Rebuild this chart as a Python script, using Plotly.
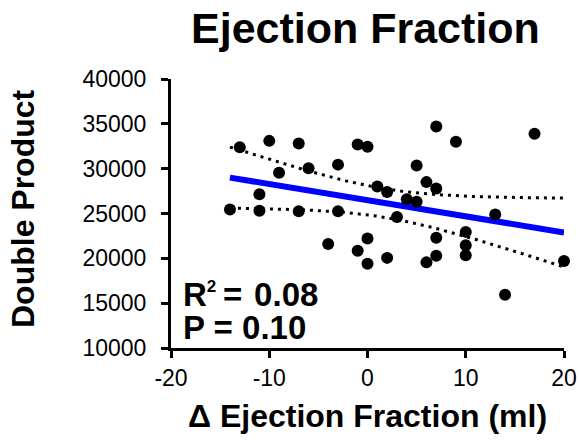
import numpy as np
import plotly.graph_objects as go

# Change in ejection fraction (ml) and double product for each subject
delta_ef = [-13, -10, -7, -1, 0, 7, 9, 17,
            -9, -6, -3, 5,
            1, 2, 6, 7,
            -11, 4, 5,
            -14, -11, -7, -3, 3, 13,
            -4, -1, 0, 0, 2, 7, 6, 7,
            10, 10, 10, 20, 14]
double_product = [32400, 33100, 32800, 32700, 32450, 34700, 33000, 33900,
                  29550, 30050, 30450, 30350,
                  28000, 27400, 28500, 27800,
                  27150, 26600, 26300,
                  25450, 25300, 25250, 25250, 24600, 24900,
                  21600, 20850, 22200, 19400, 20050, 22300, 19550, 20300,
                  22950, 21450, 20350, 19700, 15950]

x_ticks = [-20, -10, 0, 10, 20]
x_tick_text = ["-20", "-10", "0", "10", "20"]
y_ticks = [10000, 15000, 20000, 25000, 30000, 35000, 40000]
y_tick_text = ["10000", "15000", "20000", "25000", "30000", "35000", "40000"]
r2_label = ("R<sup><span style='font-size:17px'>2</span></sup>"
            "\u2009=\u00a0\u200a0.08")
p_label = "P = 0.10"

# Linear fit with 95% confidence band of the regression line
x = np.array(delta_ef, dtype=float)
y = np.array(double_product, dtype=float)
n = len(x)
slope, intercept = np.polyfit(x, y, 1)
resid = y - (slope * x + intercept)
s = np.sqrt(np.sum(resid ** 2) / (n - 2))
sxx = np.sum((x - x.mean()) ** 2)
t_crit = 2.028  # two-sided 95%, df = 36
xf = np.linspace(x.min(), x.max(), 200)
yf = slope * xf + intercept
half = t_crit * s * np.sqrt(1.0 / n + (xf - x.mean()) ** 2 / sxx)

FONT = "Liberation Sans, Arial, sans-serif"

fig = go.Figure()
fig.add_trace(go.Scatter(x=xf, y=yf + half, mode="lines",
                         line=dict(color="black", width=3, dash="3px,5px"),
                         hoverinfo="skip"))
fig.add_trace(go.Scatter(x=xf, y=yf - half, mode="lines",
                         line=dict(color="black", width=3, dash="3px,5px"),
                         hoverinfo="skip"))
fig.add_trace(go.Scatter(x=xf, y=yf, mode="lines",
                         line=dict(color="#0000FF", width=6)))
fig.add_trace(go.Scatter(x=delta_ef, y=double_product, mode="markers",
                         marker=dict(color="black", size=12),
                         cliponaxis=False))

W, H = 579, 441
ml, mr, mt, mb = 171, 15, 79, 93
pw, ph = W - ml - mr, H - mt - mb


def px(xp):
    return (xp - ml) / pw


def py(yp):
    return (H - mb - yp) / ph


annos = [
    dict(text="Ejection Fraction", x=px(365), y=py(27.5), xanchor="center",
         yanchor="middle", font=dict(size=43, weight="bold")),
    dict(text="\u0394 Ejection Fraction (ml)", x=px(367.5), y=py(416.4),
         xanchor="center", yanchor="middle", font=dict(size=32, weight="bold")),
    dict(text="Double Product", x=px(23), y=py(209), textangle=-90,
         xanchor="center", yanchor="middle", font=dict(size=32, weight="bold")),
    dict(text=r2_label, x=px(181), y=py(294), xanchor="left",
         yanchor="middle", font=dict(size=33, weight="bold")),
    dict(text=p_label, x=px(181), y=py(327.5), xanchor="left",
         yanchor="middle", font=dict(size=33, weight="bold")),
]
for a in annos:
    a.update(xref="paper", yref="paper", showarrow=False)
    a["font"].update(family=FONT, color="black")

axis_common = dict(showgrid=False, zeroline=False, showline=True,
                   linecolor="black", linewidth=3, ticks="outside",
                   ticklen=7, tickwidth=3, tickcolor="black", automargin=False,
                   tickfont=dict(family=FONT, size=23, color="black"))

fig.update_layout(
    width=W, height=H, autosize=False,
    margin=dict(l=ml, r=mr, t=mt, b=mb, autoexpand=False),
    paper_bgcolor="white", plot_bgcolor="white",
    showlegend=False,
    annotations=annos,
    xaxis=dict(range=[-20, 20], tickvals=x_ticks, ticktext=x_tick_text,
               ticklabelstandoff=0, **axis_common),
    yaxis=dict(range=[10000, 40000], tickvals=y_ticks, ticktext=y_tick_text,
               ticklabelstandoff=10, **axis_common),
)

fig.write_html("out.html")
